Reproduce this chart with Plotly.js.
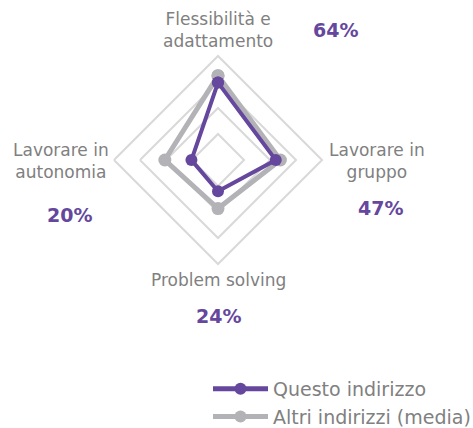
<!DOCTYPE html>
<html>
<head>
<meta charset="utf-8">
<script src="https://cdn.plot.ly/plotly-3.0.1.min.js"></script>
<style>
  body { margin: 0; background: #fff; }
  #chart { width: 473px; height: 428px; }
</style>
</head>
<body>
<div id="chart"></div>
<script>
// categories, clockwise from the top
const categories = ['Flessibilità e adattamento', 'Lavorare in gruppo', 'Problem solving', 'Lavorare in autonomia'];
const questoValues = [64, 47, 24, 20];
const altriValues = [70, 51, 39, 43];
const seriesNames = ['Questo indirizzo', 'Altri indirizzi (media)'];
const percentLabels = ['64%', '47%', '24%', '20%'];

const W = 473, H = 428;
const purple = '#65479d';
const grey = '#b3b3b7';
const textGrey = '#808080';

// close the polygon by repeating the first point
const closeLoop = arr => arr.concat([arr[0]]);

const traces = [
  {
    type: 'scatterpolar',
    name: seriesNames[1],
    theta: closeLoop(categories),
    r: closeLoop(altriValues),
    mode: 'lines+markers',
    line: { color: grey, width: 5 },
    marker: { color: grey, size: 13 },
    hoverinfo: 'skip'
  },
  {
    type: 'scatterpolar',
    name: seriesNames[0],
    theta: closeLoop(categories),
    r: closeLoop(questoValues),
    mode: 'lines+markers',
    line: { color: purple, width: 4 },
    marker: { color: purple, size: 12 },
    hoverinfo: 'skip'
  }
];

// pixel helpers for annotation placement
const px = x => x / W;
const py = y => 1 - y / H;
const labelFont = { family: 'DejaVu Sans', size: 17, color: textGrey };
const pctFont = { family: 'DejaVu Sans', size: 19, color: purple, weight: 'bold' };

const annotations = [
  { text: 'Flessibilità e<br>adattamento', x: px(218), y: py(30), font: labelFont },
  { text: 'Lavorare in<br>gruppo', x: px(377), y: py(161), font: labelFont },
  { text: 'Problem solving', x: px(218), y: py(280), font: labelFont },
  { text: 'Lavorare in<br>autonomia', x: px(61), y: py(161), font: labelFont },
  { text: '<b>' + percentLabels[0] + '</b>', x: px(335), y: py(30), font: pctFont },
  { text: '<b>' + percentLabels[1] + '</b>', x: px(380), y: py(208), font: pctFont },
  { text: '<b>' + percentLabels[2] + '</b>', x: px(218), y: py(316), font: pctFont },
  { text: '<b>' + percentLabels[3] + '</b>', x: px(69), y: py(215), font: pctFont }
].map(a => Object.assign({ xref: 'paper', yref: 'paper', showarrow: false, xanchor: 'center', yanchor: 'middle' }, a));

const layout = {
  width: W,
  height: H,
  margin: { l: 0, r: 0, t: 0, b: 0, autoexpand: false },
  paper_bgcolor: '#fff',
  font: { family: 'DejaVu Sans', color: textGrey },
  polar: {
    domain: { x: [px(114), px(322)], y: [py(264), py(56)] },
    gridshape: 'linear',
    bgcolor: 'rgba(0,0,0,0)',
    radialaxis: {
      range: [-3, 87],
      tick0: -3,
      dtick: 22.5,
      showticklabels: false,
      ticks: '',
      showline: false,
      gridcolor: '#d9d9d9',
      gridwidth: 2
    },
    angularaxis: {
      direction: 'clockwise',
      rotation: 90,
      showticklabels: false,
      ticks: '',
      showgrid: false,
      showline: true,
      linecolor: '#d9d9d9',
      linewidth: 2
    }
  },
  showlegend: true,
  legend: {
    x: px(208),
    y: py(370),
    xanchor: 'left',
    yanchor: 'top',
    traceorder: 'reversed',
    itemwidth: 55,
    itemsizing: 'constant',
    font: { family: 'DejaVu Sans', size: 19, color: textGrey },
    tracegroupgap: 0
  },
  annotations: annotations
};

Plotly.newPlot('chart', traces, layout, { displayModeBar: false, staticPlot: true });
</script>
</body>
</html>
